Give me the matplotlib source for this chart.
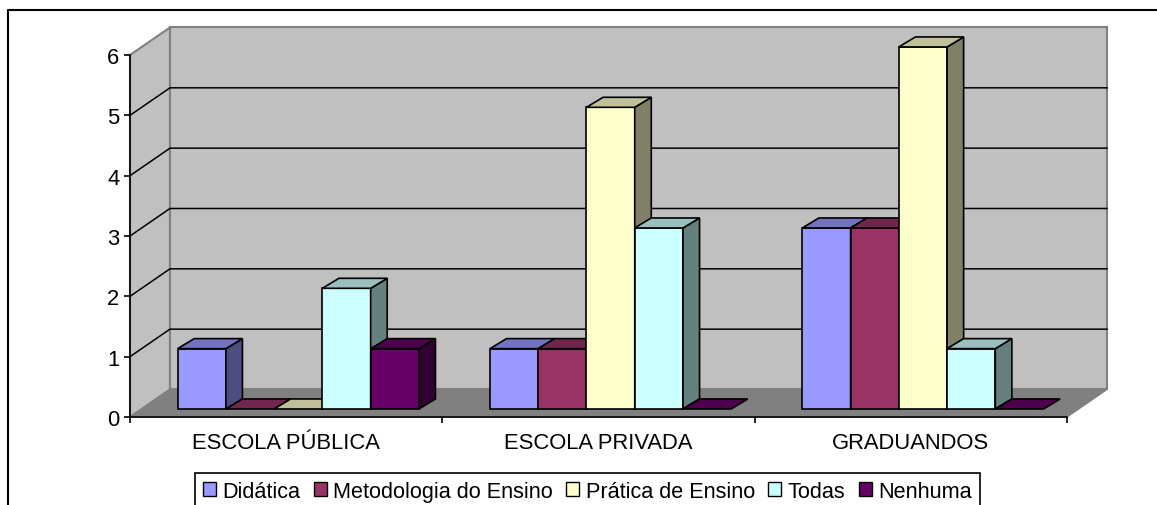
import matplotlib
matplotlib.use('Agg')
import matplotlib.pyplot as plt
from matplotlib.lines import Line2D
from matplotlib.patches import Patch, Polygon

plt.rcParams['font.family'] = ['Liberation Sans', 'DejaVu Sans']

categories = ['ESCOLA PÚBLICA', 'ESCOLA PRIVADA', 'GRADUANDOS']
series_names = ['Didática', 'Metodologia do Ensino', 'Prática de Ensino', 'Todas', 'Nenhuma']
didatica = [1, 1, 3]
metodologia = [0, 1, 3]
pratica = [0, 5, 6]
todas = [2, 3, 1]
nenhuma = [1, 0, 0]
series_values = [didatica, metodologia, pratica, todas, nenhuma]
colors = ['#9999FF', '#993366', '#FFFFCC', '#CCFFFF', '#660066']

W, H = 1157, 506
# plot area in pixels
left, right, top, bottom = 130, 1067, 56, 418

# depth of the walls and of the bars, in data units
wall_dx, wall_dy = 0.128, 0.456
bar_x0, bar_y0 = 0.039, 0.133
bar_dx, bar_dy = 0.053, 0.166
bar_w = 0.1545
gap = 0.1135


def shade(color, factor):
    rgb = matplotlib.colors.to_rgb(color)
    return tuple(c * factor for c in rgb)


def poly(ax, pts, face, edge='black', lw=1.2):
    ax.add_patch(Polygon(pts, closed=True, facecolor=face, edgecolor=edge,
                         linewidth=lw, joinstyle='miter', clip_on=False))


def draw_bar(ax, x, value, color):
    x0 = x + bar_x0
    x1 = x0 + bar_w
    y0 = bar_y0
    y1 = y0 + value
    # zero values only leave the flat top
    if value > 0:
        poly(ax, [(x0, y0), (x1, y0), (x1, y1), (x0, y1)], color)
        poly(ax, [(x1, y0), (x1 + bar_dx, y0 + bar_dy), (x1 + bar_dx, y1 + bar_dy), (x1, y1)], shade(color, 0.5))
    poly(ax, [(x0, y1), (x1, y1), (x1 + bar_dx, y1 + bar_dy), (x0 + bar_dx, y1 + bar_dy)], shade(color, 0.75))


fig = plt.figure(figsize=(W / 100, H / 100), dpi=100)
ax = fig.add_axes([left / W, 1 - bottom / H, (right - left) / W, (bottom - top) / H])
ax.set_xlim(0, 3)
ax.set_ylim(0, 6)
ax.patch.set_visible(False)

# walls and floor
poly(ax, [(0, 0), (wall_dx, wall_dy), (wall_dx, 6 + wall_dy), (0, 6)], '#C0C0C0', '#808080', 1.5)
poly(ax, [(wall_dx, wall_dy), (3 + wall_dx, wall_dy), (3 + wall_dx, 6 + wall_dy), (wall_dx, 6 + wall_dy)],
     '#C0C0C0', '#808080', 1.5)
poly(ax, [(0, 0), (wall_dx, wall_dy), (3 + wall_dx, wall_dy), (3, 0)], '#808080', '#808080', 1.0)

for v in range(1, 6):
    ax.plot([0, wall_dx, 3 + wall_dx], [v, v + wall_dy, v + wall_dy], color='black', lw=1.1, clip_on=False, zorder=1)

for i in range(len(categories)):
    for j, values in enumerate(series_values):
        draw_bar(ax, i + gap + j * bar_w, values[i], colors[j])

# axes
for side in ['top', 'right']:
    ax.spines[side].set_visible(False)
for side in ['left', 'bottom']:
    ax.spines[side].set_linewidth(1.2)
ax.set_yticks(range(7))
ax.set_xticks(range(4))
ax.set_xticklabels([])
ax.set_xticks([i + 0.5 for i in range(3)], categories, minor=True)
ax.tick_params(axis='x', which='minor', length=0, labelsize=15.8, pad=11)
ax.tick_params(axis='x', which='major', length=4.5, width=1.2)
ax.tick_params(axis='y', length=4.5, width=1.2, labelsize=15.8, pad=3)

# legend, its box runs down to the lower edge
handles = [Patch(facecolor=c, edgecolor='black', linewidth=1.0) for c in colors]
leg = fig.legend(handles, series_names, ncol=5, loc='upper left',
                 bbox_to_anchor=(195 / W, 1 - 474 / H), borderaxespad=0,
                 fontsize=15.6, handlelength=0.6, handleheight=0.6, handletextpad=0.3,
                 columnspacing=0.62, borderpad=0.35, fancybox=False, framealpha=1,
                 edgecolor='black')
leg.get_frame().set_linewidth(1.2)

# outer frame, left and top edges only
fig.add_artist(Line2D([8 / W, 8 / W, 1], [0, 1 - 11 / H, 1 - 11 / H], color='black', lw=1.5))

fig.savefig('out.png', dpi=100)
